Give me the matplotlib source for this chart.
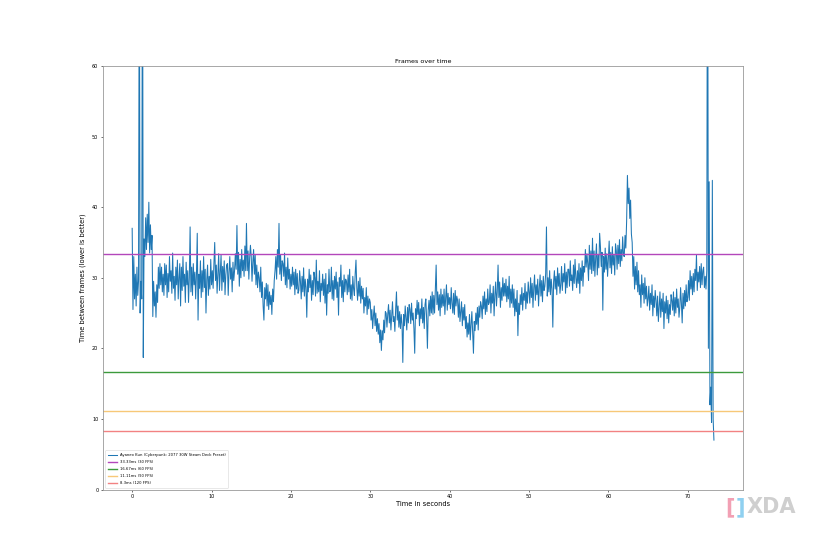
import numpy as np
import matplotlib
matplotlib.use("Agg")
import matplotlib.pyplot as plt

# frame time estimates (ms), one reading every 0.1 s, one row per second
SAMPLE_STEP = 0.1
frame_ms = [
    37.0, 25.5, 33.0, 27.0, 30.5, 26.0, 31.5, 27.5, 29.5, 80.0,   # 0 s
    25.0, 29.5, 27.0, 85.0, 18.7, 35.5, 33.0, 38.5, 34.0, 39.0,
    35.0, 40.7, 33.5, 37.5, 34.0, 36.0, 24.5, 29.5, 26.0, 28.0,
    24.4, 29.0, 26.5, 31.5, 28.5, 32.0, 29.0, 31.5, 28.0, 30.5,
    27.5, 32.0, 29.0, 31.8, 27.2, 30.6, 28.0, 33.0, 29.5, 31.0,
    27.8, 33.5, 28.5, 30.2, 26.8, 31.5, 29.0, 32.5, 27.0, 30.0,   # 5 s
    32.0, 26.0, 31.5, 28.2, 33.0, 28.8, 30.5, 26.5, 32.2, 29.0,
    31.0, 26.5, 30.0, 37.2, 28.0, 31.5, 27.5, 32.0, 29.0, 30.8,
    27.0, 30.5, 36.3, 24.0, 30.5, 28.5, 32.4, 27.2, 31.0, 28.0,
    33.0, 28.6, 31.2, 25.0, 29.8, 31.8, 27.5, 30.2, 28.4, 32.6,
    29.0, 31.0, 28.5, 32.0, 35.0, 29.6, 31.8, 27.8, 30.6, 33.4,   # 10 s
    28.2, 30.8, 33.2, 28.2, 31.6, 29.4, 32.4, 27.6, 30.4, 31.8,
    32.0, 27.5, 30.8, 33.0, 29.8, 31.4, 28.0, 32.2, 29.6, 31.0,
    33.4, 31.2, 37.4, 30.5, 33.6, 28.8, 32.6, 30.0, 34.0, 31.0,
    32.5, 30.2, 34.5, 31.0, 37.7, 31.0, 33.8, 29.8, 32.8, 34.6,
    33.0, 29.5, 32.2, 34.0, 30.5, 33.2, 29.0, 31.8, 28.6, 30.8,   # 15 s
    30.0, 28.0, 31.5, 27.2, 29.4, 26.0, 24.0, 28.6, 27.0, 29.2,
    26.0, 29.0, 25.5, 28.0, 26.2, 27.5, 24.8, 28.4, 26.6, 29.6,
    31.0, 33.0, 29.8, 34.0, 31.5, 37.7, 30.5, 33.2, 29.6, 32.4,
    32.0, 30.2, 33.5, 29.0, 31.5, 28.6, 32.8, 29.8, 31.2, 28.4,
    30.5, 28.8, 31.5, 29.0, 30.8, 27.6, 31.2, 28.4, 30.6, 27.8,   # 20 s
    28.2, 31.0, 29.5, 27.0, 30.2, 28.0, 31.4, 27.4, 29.8, 28.6,
    24.4, 29.8, 28.0, 31.2, 28.6, 30.4, 26.8, 29.6, 27.6, 30.8,
    30.0, 27.4, 32.5, 27.8, 29.5, 28.0, 31.0, 26.6, 29.2, 28.2,
    30.5, 27.5, 29.8, 26.4, 30.6, 24.7, 29.0, 27.8, 31.2, 28.0,
    28.2, 31.5, 27.0, 29.6, 26.8, 30.2, 28.4, 30.8, 27.2, 29.4,   # 25 s
    24.7, 30.0, 28.8, 31.8, 27.2, 29.6, 26.6, 30.4, 28.0, 29.8,
    29.5, 27.6, 30.4, 28.0, 31.2, 27.0, 29.0, 26.8, 30.2, 28.4,
    27.5, 30.6, 32.5, 28.6, 26.8, 29.5, 27.4, 30.0, 26.4, 28.8,
    27.0, 28.5, 25.0, 27.2, 26.0, 28.6, 24.8, 27.4, 25.6, 27.0,
    26.5, 24.0, 25.5, 22.8, 24.6, 26.0, 23.2, 25.0, 22.4, 24.2,   # 30 s
    22.0, 23.5, 20.8, 22.6, 19.7, 22.5, 21.2, 24.0, 22.2, 25.2,
    25.0, 23.0, 24.8, 26.2, 23.6, 25.4, 22.6, 24.6, 26.6, 23.8,
    24.5, 22.4, 25.6, 28.0, 24.0, 26.0, 23.0, 25.2, 22.8, 24.8,
    23.4, 18.0, 24.8, 23.2, 26.0, 24.4, 22.6, 25.8, 23.6, 26.2,
    25.5, 23.5, 26.4, 24.0, 25.0, 22.8, 19.3, 25.6, 24.2, 26.8,   # 35 s
    24.8, 26.5, 23.2, 25.6, 24.2, 27.0, 23.6, 25.8, 22.8, 26.2,
    27.0, 24.2, 20.0, 25.4, 26.8, 24.6, 27.4, 25.0, 28.0, 24.8,
    27.5, 25.0, 28.2, 31.8, 26.2, 28.0, 25.4, 27.6, 24.6, 28.4,
    25.8, 27.6, 26.0, 28.4, 24.8, 27.2, 29.0, 25.4, 27.8, 26.2,
    27.2, 25.6, 28.6, 26.4, 25.0, 27.8, 24.8, 28.2, 26.0, 27.4,   # 40 s
    26.8, 24.4, 27.0, 23.8, 25.2, 26.6, 23.2, 25.8, 24.0, 26.2,
    22.8, 24.5, 21.6, 23.6, 22.0, 24.8, 21.2, 23.4, 25.2, 22.4,
    19.3, 23.8, 22.5, 25.0, 23.4, 25.8, 22.6, 26.0, 24.4, 26.6,
    26.0, 24.2, 27.4, 25.6, 28.0, 24.8, 27.0, 25.2, 28.4, 26.2,
    26.5, 29.0, 25.0, 27.8, 26.4, 28.8, 24.6, 27.6, 29.4, 26.0,   # 45 s
    28.0, 31.8, 27.2, 29.4, 25.8, 28.6, 26.8, 30.0, 27.4, 29.2,
    27.4, 29.8, 26.6, 28.8, 27.0, 30.2, 25.8, 28.4, 26.4, 29.0,
    25.8, 28.4, 24.6, 27.0, 25.2, 28.2, 21.8, 26.4, 24.8, 27.6,
    26.2, 28.6, 25.4, 27.8, 26.8, 29.2, 25.6, 28.0, 26.4, 29.4,
    28.0, 26.4, 30.0, 27.2, 29.2, 25.8, 28.6, 30.4, 26.8, 29.0,   # 50 s
    27.6, 29.8, 26.0, 28.6, 30.4, 27.4, 29.6, 26.6, 30.2, 28.2,
    28.8, 30.6, 37.2, 27.4, 30.0, 28.0, 31.0, 27.6, 29.8, 28.4,
    23.0, 29.4, 31.0, 28.4, 30.2, 27.6, 31.4, 28.8, 30.6, 27.8,
    29.0, 31.6, 28.2, 30.6, 29.4, 32.0, 27.8, 30.8, 28.6, 31.2,
    31.2, 28.8, 32.4, 29.6, 30.4, 28.2, 31.8, 29.2, 32.6, 30.0,   # 55 s
    28.6, 31.0, 29.2, 32.0, 27.8, 31.4, 29.6, 32.4, 28.8, 31.6,
    30.8, 34.0, 31.5, 33.4, 32.0, 29.6, 34.6, 31.2, 33.8, 30.6,
    35.6, 31.0, 33.8, 30.2, 32.8, 34.8, 30.4, 33.2, 31.4, 36.3,
    34.4, 31.6, 33.6, 25.4, 33.0, 30.8, 34.2, 31.2, 33.4, 30.2,
    32.6, 35.2, 31.4, 33.6, 30.6, 34.4, 31.8, 33.2, 30.4, 34.8,   # 60 s
    33.8, 31.2, 34.6, 32.0, 35.4, 31.6, 34.0, 32.4, 35.8, 33.2,
    33.0, 36.0, 34.2, 38.0, 44.5, 40.5, 42.7, 38.4, 41.0, 36.2,
    35.0, 30.2, 33.0, 28.4, 31.6, 29.0, 32.2, 28.0, 31.0, 27.6,
    29.0, 25.8, 30.4, 27.6, 29.2, 26.4, 30.0, 27.0, 28.8, 26.0,
    27.0, 28.8, 25.4, 27.8, 26.2, 29.0, 24.6, 27.4, 25.8, 28.2,   # 65 s
    26.8, 24.6, 27.4, 23.8, 26.0, 28.0, 24.4, 27.0, 25.2, 27.8,
    22.8, 26.6, 25.0, 27.4, 24.2, 26.8, 23.6, 26.2, 24.8, 27.6,
    26.8, 25.4, 28.0, 24.6, 27.2, 25.0, 28.4, 25.8, 27.0, 24.4,
    25.8, 28.6, 26.4, 23.6, 27.8, 25.6, 28.2, 26.0, 29.0, 26.6,
    27.2, 29.6, 26.8, 31.0, 28.4, 30.2, 27.6, 30.6, 28.0, 31.2,   # 70 s
    29.6, 33.2, 28.2, 30.8, 29.4, 31.6, 28.6, 32.0, 29.0, 31.0,
    31.5, 28.6, 30.2, 28.4, 31.0, 95.0, 20.0, 43.6, 12.0, 14.5,
    9.5, 43.8, 10.0, 7.0,
]
time_s = np.arange(len(frame_ms)) * SAMPLE_STEP

run_label = "Ayaneo Kun (Cyberpunk: 2077 30W Steam Deck Preset)"
targets_ms = [33.33, 16.67, 11.11, 8.3]
target_labels = ["33.33ms (30 FPS)", "16.67ms (60 FPS)", "11.11ms (90 FPS)", "8.3ms (120 FPS)"]
target_colors = ["#b347bb", "#3c9a3c", "#f7c878", "#f28282"]

fig = plt.figure(figsize=(8.25, 5.5), dpi=100)
ax = fig.add_subplot(111)
fig.subplots_adjust(left=0.125, right=0.9, bottom=0.11, top=0.88)

ax.plot(time_s, frame_ms, color="#1f77b4", linewidth=0.75, label=run_label)
for val, lab, col in zip(targets_ms, target_labels, target_colors):
    ax.axhline(val, color=col, linewidth=1.0, label=lab)

ax.set_ylim(0, 60)
ax.set_xlim(-3.66, 76.9)
ax.set_title("Frames over time", fontsize=4.6, pad=2)
ax.set_xlabel("Time in seconds", fontsize=4.8, labelpad=1.5)
ax.set_ylabel("Time between frames (lower is better)", fontsize=4.8, labelpad=4)
ax.tick_params(labelsize=3.5, length=1.5, width=0.4, pad=2)
for sp in ax.spines.values():
    sp.set_linewidth(0.6)
    sp.set_color("#999999")

leg = ax.legend(loc="lower left", fontsize=2.7, handlelength=2.4, borderpad=0.7,
                labelspacing=0.8, framealpha=0.8)
leg.get_frame().set_linewidth(0.4)

# watermark
fig.text(0.885, 0.078, "[", color="#f2a0b4", fontsize=15, fontweight="bold", ha="center", va="center")
fig.text(0.897, 0.078, "]", color="#8fd0f0", fontsize=15, fontweight="bold", ha="center", va="center")
fig.text(0.935, 0.078, "XDA", color="#cfcfcf", fontsize=15, fontweight="bold", ha="center", va="center")

fig.savefig("out.png", dpi=100)
